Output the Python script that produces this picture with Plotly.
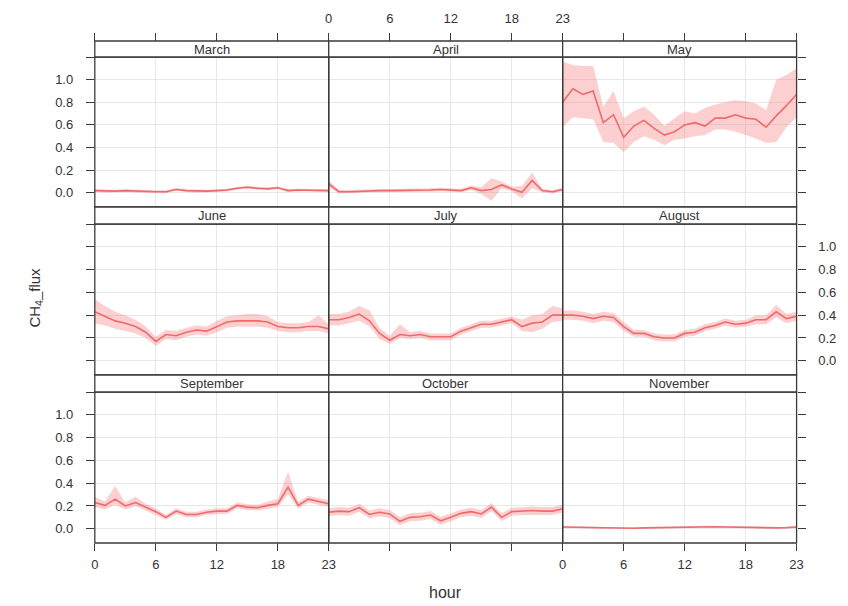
import plotly.graph_objects as go

# Hourly CH4 flux: mean with confidence band, by month
hours = list(range(24))
months = ["March", "April", "May", "June", "July", "August",
          "September", "October", "November"]

march_mean = [0.020, 0.015, 0.015, 0.020, 0.015, 0.010, 0.010, 0.010, 0.030, 0.020, 0.015, 0.015,
              0.020, 0.025, 0.040, 0.050, 0.040, 0.035, 0.045, 0.020, 0.025, 0.025, 0.025, 0.020]
march_lo = [0.008, 0.003, 0.003, 0.008, 0.003, -0.002, -0.002, -0.002, 0.018, 0.008, 0.003, 0.003,
            0.008, 0.013, 0.028, 0.038, 0.028, 0.023, 0.033, 0.008, 0.013, 0.013, 0.013, 0.008]
march_hi = [0.032, 0.027, 0.027, 0.032, 0.027, 0.022, 0.022, 0.022, 0.042, 0.032, 0.027, 0.027,
            0.032, 0.037, 0.052, 0.062, 0.052, 0.047, 0.057, 0.032, 0.037, 0.037, 0.037, 0.032]

april_mean = [0.080, 0.010, 0.010, 0.015, 0.020, 0.020, 0.020, 0.020, 0.025, 0.025, 0.025, 0.030,
              0.025, 0.020, 0.045, 0.020, 0.030, 0.070, 0.035, 0.005, 0.110, 0.020, 0.010, 0.030]
april_lo = [0.050, -0.005, -0.005, 0.000, 0.005, 0.005, 0.005, 0.005, 0.010, 0.010, 0.010, 0.015,
            0.010, 0.005, 0.025, -0.010, -0.070, 0.040, 0.015, -0.050, 0.040, 0.005, -0.005, 0.015]
april_hi = [0.110, 0.025, 0.025, 0.030, 0.035, 0.035, 0.035, 0.035, 0.040, 0.040, 0.040, 0.045,
            0.040, 0.035, 0.065, 0.050, 0.130, 0.100, 0.055, 0.060, 0.180, 0.035, 0.025, 0.045]

may_mean = [0.80, 0.92, 0.87, 0.90, 0.62, 0.69, 0.49, 0.59, 0.64, 0.57, 0.51, 0.54,
            0.60, 0.62, 0.59, 0.66, 0.66, 0.69, 0.66, 0.65, 0.58, 0.68, 0.77, 0.87]
may_lo = [0.58, 0.67, 0.66, 0.65, 0.45, 0.44, 0.36, 0.45, 0.50, 0.47, 0.42, 0.47,
          0.48, 0.50, 0.51, 0.56, 0.56, 0.54, 0.51, 0.48, 0.44, 0.45, 0.58, 0.67]
may_hi = [1.16, 1.13, 1.12, 1.12, 0.76, 0.90, 0.66, 0.72, 0.76, 0.69, 0.59, 0.66,
          0.72, 0.70, 0.75, 0.78, 0.80, 0.82, 0.81, 0.79, 0.73, 1.00, 1.04, 1.10]

june_mean = [0.43, 0.39, 0.35, 0.33, 0.30, 0.25, 0.17, 0.23, 0.22, 0.25, 0.27, 0.26,
             0.30, 0.34, 0.35, 0.35, 0.35, 0.34, 0.30, 0.29, 0.29, 0.30, 0.30, 0.28]
june_lo = [0.33, 0.31, 0.28, 0.26, 0.24, 0.20, 0.13, 0.19, 0.18, 0.21, 0.23, 0.22,
           0.25, 0.29, 0.30, 0.30, 0.30, 0.29, 0.26, 0.25, 0.25, 0.26, 0.26, 0.24]
june_hi = [0.54, 0.48, 0.43, 0.40, 0.36, 0.30, 0.21, 0.27, 0.26, 0.29, 0.31, 0.30,
           0.35, 0.39, 0.40, 0.41, 0.41, 0.39, 0.34, 0.33, 0.33, 0.34, 0.40, 0.32]

july_mean = [0.36, 0.36, 0.38, 0.41, 0.35, 0.24, 0.18, 0.23, 0.22, 0.23, 0.21, 0.21,
             0.21, 0.26, 0.29, 0.32, 0.32, 0.34, 0.36, 0.30, 0.33, 0.34, 0.40, 0.40]
july_lo = [0.31, 0.31, 0.33, 0.35, 0.30, 0.19, 0.15, 0.20, 0.19, 0.20, 0.18, 0.18,
           0.18, 0.23, 0.26, 0.29, 0.29, 0.31, 0.33, 0.26, 0.25, 0.28, 0.34, 0.35]
july_hi = [0.41, 0.41, 0.43, 0.48, 0.44, 0.29, 0.22, 0.32, 0.25, 0.26, 0.24, 0.24,
           0.24, 0.29, 0.32, 0.35, 0.35, 0.37, 0.39, 0.36, 0.40, 0.41, 0.48, 0.46]

august_mean = [0.40, 0.40, 0.39, 0.37, 0.39, 0.38, 0.30, 0.24, 0.24, 0.21, 0.20, 0.20,
               0.24, 0.25, 0.29, 0.31, 0.34, 0.32, 0.33, 0.36, 0.36, 0.43, 0.37, 0.39]
august_lo = [0.36, 0.36, 0.35, 0.33, 0.35, 0.34, 0.26, 0.21, 0.21, 0.18, 0.17, 0.17,
             0.21, 0.22, 0.26, 0.28, 0.31, 0.29, 0.30, 0.32, 0.32, 0.38, 0.33, 0.35]
august_hi = [0.44, 0.44, 0.43, 0.41, 0.43, 0.42, 0.34, 0.27, 0.27, 0.24, 0.23, 0.23,
             0.27, 0.28, 0.32, 0.34, 0.37, 0.35, 0.36, 0.40, 0.40, 0.49, 0.41, 0.43]

september_mean = [0.230, 0.205, 0.260, 0.200, 0.230, 0.190, 0.150, 0.100, 0.155, 0.125, 0.125, 0.145,
                  0.155, 0.155, 0.205, 0.190, 0.185, 0.205, 0.220, 0.365, 0.205, 0.260, 0.240, 0.220]
september_lo = [0.190, 0.170, 0.210, 0.170, 0.200, 0.160, 0.120, 0.080, 0.130, 0.100, 0.100, 0.120,
                0.130, 0.130, 0.180, 0.165, 0.160, 0.175, 0.190, 0.300, 0.175, 0.230, 0.210, 0.190]
september_hi = [0.280, 0.240, 0.375, 0.230, 0.280, 0.220, 0.180, 0.120, 0.180, 0.150, 0.150, 0.170,
                0.180, 0.180, 0.230, 0.215, 0.210, 0.240, 0.260, 0.500, 0.235, 0.290, 0.270, 0.250]

october_mean = [0.145, 0.155, 0.150, 0.185, 0.125, 0.145, 0.130, 0.065, 0.100, 0.105, 0.120, 0.070,
                0.100, 0.135, 0.150, 0.130, 0.190, 0.100, 0.150, 0.155, 0.160, 0.155, 0.155, 0.175]
october_lo = [0.110, 0.120, 0.115, 0.150, 0.090, 0.110, 0.095, 0.030, 0.065, 0.070, 0.085, 0.035,
              0.065, 0.100, 0.115, 0.095, 0.155, 0.065, 0.115, 0.120, 0.125, 0.120, 0.120, 0.140]
october_hi = [0.180, 0.190, 0.185, 0.220, 0.160, 0.180, 0.165, 0.100, 0.135, 0.140, 0.155, 0.105,
              0.135, 0.170, 0.185, 0.165, 0.225, 0.135, 0.185, 0.190, 0.195, 0.190, 0.190, 0.210]

november_mean = [0.015, 0.013, 0.010, 0.008, 0.005, 0.003, 0.003, 0.005, 0.008, 0.010, 0.015, 0.015,
                 0.018, 0.020, 0.020, 0.018, 0.015, 0.013, 0.013, 0.013, 0.010, 0.008, 0.010, 0.015]
november_lo = [0.009, 0.007, 0.004, 0.002, -0.001, -0.003, -0.003, -0.001, 0.002, 0.004, 0.009, 0.009,
               0.012, 0.014, 0.014, 0.012, 0.009, 0.007, 0.007, 0.007, 0.004, 0.002, 0.004, 0.009]
november_hi = [0.021, 0.019, 0.016, 0.014, 0.011, 0.009, 0.009, 0.011, 0.014, 0.016, 0.021, 0.021,
               0.024, 0.026, 0.026, 0.024, 0.021, 0.019, 0.019, 0.019, 0.016, 0.014, 0.016, 0.021]

x_tickvals = [0, 6, 12, 18, 23]
y_tickvals = [0.0, 0.2, 0.4, 0.6, 0.8, 1.0]
y_ticktext = ["0.0", "0.2", "0.4", "0.6", "0.8", "1.0"]
y_top_tick = [1.2]

series = [
    (march_mean, march_lo, march_hi), (april_mean, april_lo, april_hi), (may_mean, may_lo, may_hi),
    (june_mean, june_lo, june_hi), (july_mean, july_lo, july_hi), (august_mean, august_lo, august_hi),
    (september_mean, september_lo, september_hi), (october_mean, october_lo, october_hi),
    (november_mean, november_lo, november_hi),
]

W, H = 848, 606
LINE = "#EF6A6A"
BAND = "rgba(245,120,120,0.35)"
BORDER = "#3a3a3a"
GRID = "#e8e8e8"
TXT = "#333333"
FONT = "Liberation Sans, Arial, sans-serif"
TICKFONT = dict(size=13, color=TXT)

def fx(px):
    return px / W

def fy(px):
    return 1 - px / H

col_px = [(92, 329), (329, 566), (566, 803)]
row_px = [(57, 207), (224, 375), (392, 543)]   # panel top/bottom
strip_px = [(41, 57), (207, 224), (375, 392)]  # strip top/bottom

fig = go.Figure()
layout = dict(
    width=W, height=H, margin=dict(l=0, r=0, t=0, b=0),
    paper_bgcolor="white", plot_bgcolor="white", showlegend=False,
    font=dict(family=FONT, color=TXT, size=13),
)
shapes = []
annotations = []

for k, (mean, lo, hi) in enumerate(series):
    r, c = divmod(k, 3)
    n = k + 1
    xa = "x" if n == 1 else f"x{n}"
    ya = "y" if n == 1 else f"y{n}"
    fig.add_trace(go.Scatter(
        x=hours + hours[::-1], y=hi + lo[::-1], xaxis=xa, yaxis=ya,
        fill="toself", fillcolor=BAND, line=dict(width=0), mode="lines",
        hoverinfo="skip"))
    fig.add_trace(go.Scatter(
        x=hours, y=mean, xaxis=xa, yaxis=ya, mode="lines",
        line=dict(color=LINE, width=1.6)))

    x0, x1 = col_px[c]
    top, bot = row_px[r]
    xaxis = dict(
        domain=[fx(x0), fx(x1)], range=[0, 23], tickvals=x_tickvals,
        showgrid=True, gridcolor=GRID, gridwidth=1, zeroline=False, showline=False,
        ticks="", showticklabels=False, tickfont=TICKFONT, anchor=ya,
    )
    if r == 0:
        xaxis.update(side="top", anchor="free", position=fy(strip_px[0][0]),
                     ticks="outside", ticklen=8, tickwidth=1.2, tickcolor=BORDER,
                     showticklabels=(c == 1), ticklabelstandoff=5)
    elif r == 2:
        xaxis.update(side="bottom", ticks="outside", ticklen=7, tickwidth=1.2,
                     tickcolor=BORDER, showticklabels=(c != 1), ticklabelstandoff=2)
    yaxis = dict(
        domain=[fy(bot), fy(top)], range=[-0.125, 1.2], tickvals=y_tickvals,
        ticktext=y_ticktext, showgrid=True, gridcolor=GRID, gridwidth=1,
        zeroline=False, showline=False, ticks="", showticklabels=False,
        tickfont=TICKFONT, anchor=xa,
    )
    if c in (0, 2):
        yaxis.update(side="left" if c == 0 else "right", ticks="outside", ticklen=8,
                     tickwidth=1.2, tickcolor=BORDER, ticklabelstandoff=10,
                     showticklabels=(r != 1) if c == 0 else (r == 1),
                     minor=dict(tickvals=y_top_tick, ticks="outside", ticklen=8,
                                tickwidth=1.2, tickcolor=BORDER, showgrid=False))
    layout["xaxis" if n == 1 else f"xaxis{n}"] = xaxis
    layout["yaxis" if n == 1 else f"yaxis{n}"] = yaxis

    # panel frame
    shapes.append(dict(type="rect", xref="paper", yref="paper",
                       x0=fx(x0), x1=fx(x1), y0=fy(bot), y1=fy(top),
                       line=dict(color=BORDER, width=1.3), layer="above"))
    # strip with month name
    s0, s1 = strip_px[r]
    shapes.append(dict(type="rect", xref="paper", yref="paper",
                       x0=fx(x0), x1=fx(x1), y0=fy(s1), y1=fy(s0),
                       fillcolor="white", line=dict(color=BORDER, width=1.3), layer="above"))
    annotations.append(dict(text=months[k], xref="paper", yref="paper",
                            x=fx((x0 + x1) / 2), y=fy((s0 + s1) / 2),
                            showarrow=False, font=dict(size=13, color=TXT),
                            xanchor="center", yanchor="middle"))

annotations.append(dict(text="hour", xref="paper", yref="paper", x=fx(447), y=fy(592),
                        showarrow=False, font=dict(size=16, color=TXT),
                        xanchor="center", yanchor="middle"))
annotations.append(dict(text="CH<sub>4</sub>_flux", xref="paper", yref="paper",
                        x=fx(31), y=fy(298), textangle=-90, showarrow=False,
                        font=dict(size=15, color=TXT), xanchor="center", yanchor="middle"))

layout["shapes"] = shapes
layout["annotations"] = annotations
fig.update_layout(**layout)
fig.write_html("out.html")
